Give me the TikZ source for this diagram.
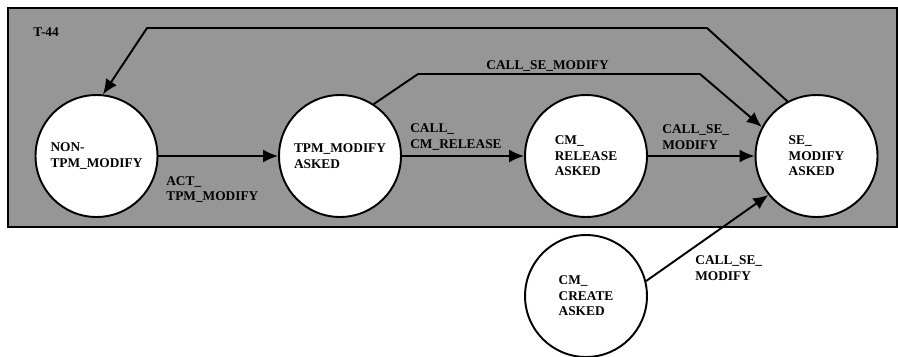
\documentclass[tikz,border=0pt]{standalone}
\usepackage{fontspec}
\setmainfont{Liberation Serif}
\usepackage{tikz}
\usetikzlibrary{arrows.meta}
\definecolor{tgray}{RGB}{150,150,150}

\begin{document}
\begin{tikzpicture}[x=0.02cm,y=-0.02cm,
  font=\fontsize{7.6pt}{8.8pt}\selectfont\bfseries,
  state/.style={circle,draw,line width=1.1pt,fill=white,minimum size=2.44cm,inner sep=0pt,align=left},
  lbl/.style={anchor=west,inner sep=0pt,align=left},
  arr/.style={-{Latex[length=3mm,width=2.6mm]},line width=1.1pt}]
\useasboundingbox (0,0) rectangle (898,356);
\draw[line width=1.1pt,fill=tgray] (8,8) rectangle (897,227);
\node[lbl] (t44) at (33,32) {T-44};
\node[state] (non) at (96.5,156) {NON-\\TPM\_MODIFY};
\node[state] (tpm) at (340,156)  {TPM\_MODIFY\\ASKED};
\node[state] (cmr) at (586,156)  {CM\_\\RELEASE\\ASKED};
\node[state] (se)  at (816.5,156) {SE\_\\MODIFY\\ASKED};
\node[state] (cmc) at (586,296)  {CM\_\\CREATE\\ASKED};
\coordinate (topr) at (707,28); \coordinate (topl) at (147,28);
\coordinate (midl) at (418,74); \coordinate (midr) at (700,74);
\draw[arr] (non)--(tpm); \draw[arr] (tpm)--(cmr); \draw[arr] (cmr)--(se);
\draw[arr] (se.118) -- (topr) -- (topl) -- (non.84);
\draw[arr] (tpm.57) -- (midl) -- (midr) -- (se.152);
\draw[arr] (cmc.14) -- (se.219);
\node[lbl] (l1) at (166,189.5) {ACT\_\\TPM\_MODIFY};
\node[lbl] (l2) at (410,137)   {CALL\_\\CM\_RELEASE};
\node[lbl] (l3) at (662,137)   {CALL\_SE\_\\MODIFY};
\node[lbl] (l4) at (486,66)    {CALL\_SE\_MODIFY};
\node[lbl] (l5) at (695,268)   {CALL\_SE\_\\MODIFY};
\end{tikzpicture}
\end{document}
